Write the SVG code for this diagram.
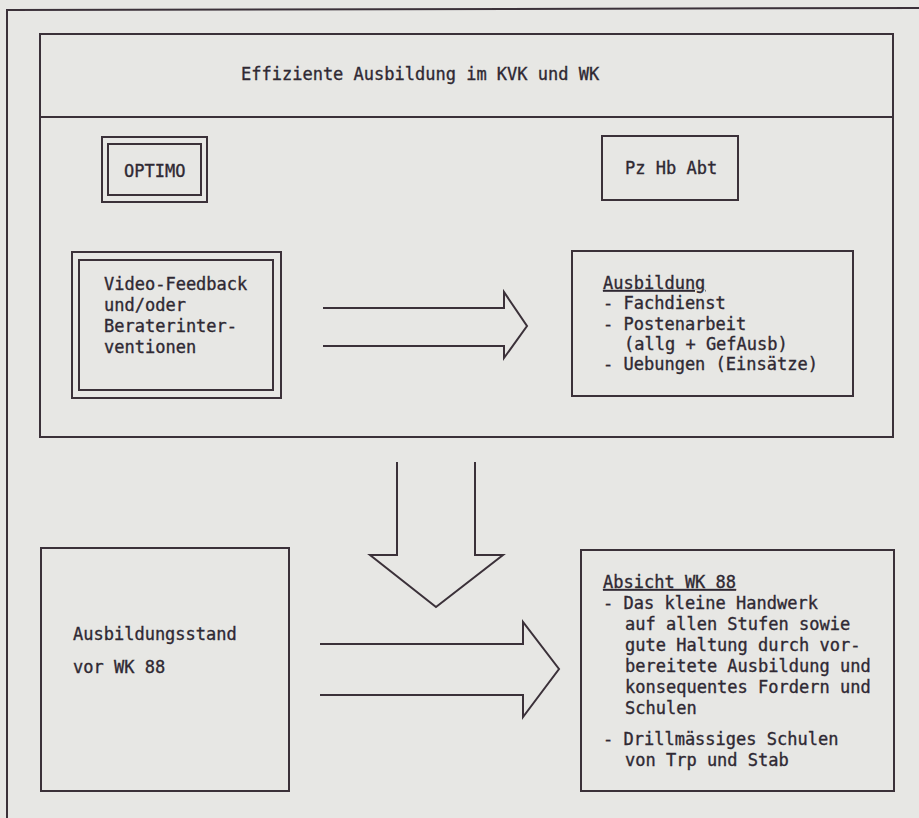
<svg xmlns="http://www.w3.org/2000/svg" width="919" height="818" viewBox="0 0 919 818">
<style>
.ln{fill:none;stroke:#3b3139;stroke-width:2;stroke-linejoin:miter}
.t{font-family:"DejaVu Sans Mono","Liberation Mono",monospace;font-size:17px;fill:#2f2933;stroke:#2f2933;stroke-width:0.35}
.u{text-decoration:underline}
</style>
<rect width="919" height="818" fill="#e7e7e4"/>
<g id="frame">
<polyline class="ln" points="7,818 7,10 919,8"/>
</g>
<g id="main">
<rect class="ln" x="40" y="34" width="853" height="403"/>
<line class="ln" x1="40" y1="117" x2="893" y2="117"/>
<text class="t" x="241" y="80">Effiziente Ausbildung im KVK und WK</text>
</g>
<g id="optimo">
<rect class="ln" x="102" y="137" width="105" height="65"/>
<rect class="ln" x="108" y="144" width="93" height="51"/>
<text class="t" x="124" y="177">OPTIMO</text>
</g>
<g id="pzhbabt">
<rect class="ln" x="602" y="136" width="136" height="64"/>
<text class="t" x="625" y="174">Pz Hb Abt</text>
</g>
<g id="video">
<rect class="ln" x="72" y="252" width="209" height="146"/>
<rect class="ln" x="79" y="260" width="194" height="130"/>
<text class="t" x="104" y="290">Video-Feedback</text>
<text class="t" x="104" y="311">und/oder</text>
<text class="t" x="104" y="332">Beraterinter-</text>
<text class="t" x="104" y="353">ventionen</text>
</g>
<g id="ausbildung">
<rect class="ln" x="572" y="251" width="281" height="145"/>
<text class="t" x="603" y="289"><tspan class="u">Ausbildung</tspan></text>
<text class="t" x="603" y="309">- Fachdienst</text>
<text class="t" x="603" y="330">- Postenarbeit</text>
<text class="t" x="624" y="350">(allg + GefAusb)</text>
<text class="t" x="603" y="370">- Uebungen (Einsätze)</text>
</g>
<g id="stand">
<rect class="ln" x="41" y="548" width="248" height="243"/>
<text class="t" x="73" y="640">Ausbildungsstand</text>
<text class="t" x="73" y="673">vor WK 88</text>
</g>
<g id="absicht">
<rect class="ln" x="581" y="550" width="313" height="241"/>
<text class="t" x="603" y="588"><tspan class="u">Absicht WK 88</tspan></text>
<text class="t" x="603" y="609">- Das kleine Handwerk</text>
<text class="t" x="625" y="630">auf allen Stufen sowie</text>
<text class="t" x="625" y="651">gute Haltung durch vor-</text>
<text class="t" x="625" y="672">bereitete Ausbildung und</text>
<text class="t" x="625" y="693">konsequentes Fordern und</text>
<text class="t" x="625" y="714">Schulen</text>
<text class="t" x="603" y="745">- Drillmässiges Schulen</text>
<text class="t" x="625" y="766">von Trp und Stab</text>
</g>
<g id="connectors">
<polyline class="ln" points="323,308 504,308 504,292 527,326 504,358 504,346 323,346"/>
<polyline class="ln" points="397,462 397,555 370,555 436,607 503,555 475,555 475,462"/>
<polyline class="ln" points="320,644 523,644 523,622 559,669 523,717 523,695 320,695"/>
</g>
</svg>
